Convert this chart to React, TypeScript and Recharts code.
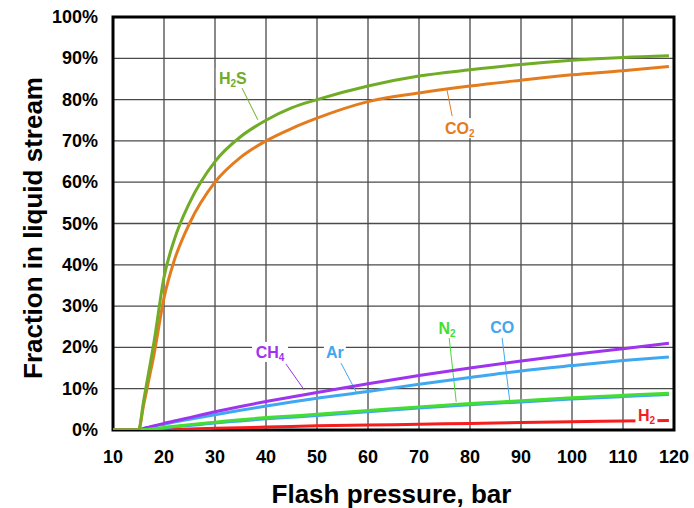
import React from 'react';
import {
  LineChart, Line, XAxis, YAxis, CartesianGrid, ReferenceArea, ReferenceLine, ReferenceDot, Label,
} from 'recharts';

const pressure = [10, 15, 16, 17, 18, 20, 22, 25, 30, 35, 40, 45, 50, 60, 70, 80, 90, 100, 110, 119];
const h2s = [0, 0, 7, 14, 21, 37, 46, 55, 65, 71, 75, 78, 80, 83.3, 85.7, 87.2, 88.5, 89.5, 90.2, 90.6];
const co2 = [0, 0, 6, 12, 18, 32, 41, 50, 60, 66, 70, 73, 75.5, 79.5, 81.6, 83.3, 84.7, 86, 87, 88];
const ch4 = [0, 0, 0.4, 0.7, 1.0, 1.6, 2.2, 3.0, 4.4, 5.7, 6.9, 8.0, 9.1, 11.2, 13.2, 15.0, 16.7, 18.3, 19.7, 21];
const ar = [0, 0, 0.3, 0.6, 0.9, 1.4, 1.9, 2.6, 3.7, 4.8, 5.8, 6.8, 7.7, 9.3, 11.1, 12.7, 14.3, 15.6, 16.8, 17.7];
const n2 = [0, 0, 0.1, 0.2, 0.3, 0.6, 0.9, 1.3, 1.9, 2.5, 3.0, 3.4, 3.8, 4.7, 5.6, 6.4, 7.1, 7.8, 8.4, 8.9];
const co = [0, 0, 0.1, 0.2, 0.3, 0.5, 0.8, 1.1, 1.7, 2.2, 2.7, 3.1, 3.5, 4.4, 5.3, 6.1, 6.8, 7.5, 8.1, 8.6];
const h2 = [0, 0, 0, 0, 0.05, 0.1, 0.15, 0.25, 0.4, 0.55, 0.7, 0.85, 1.0, 1.2, 1.4, 1.6, 1.8, 2.0, 2.15, 2.3];

const xTicks = [10, 20, 30, 40, 50, 60, 70, 80, 90, 100, 110, 120];
const yTicks = [0, 10, 20, 30, 40, 50, 60, 70, 80, 90, 100];

const C_H2S = '#70ac26';
const C_CO2 = '#e47c1e';
const C_CH4 = '#9e34ee';
const C_AR = '#40a8f0';
const C_N2 = '#44de33';
const C_H2 = '#f51d1d';

const data = pressure.map((p, i) => ({
  p, h2s: h2s[i], co2: co2[i], ch4: ch4[i], ar: ar[i], n2: n2[i], co: co[i], h2: h2[i],
}));

const labels = [
  { main: 'H', sub: '2', tail: 'S', color: C_H2S, x: 33.5, y: 85.2, w: 34 },
  { main: 'CO', sub: '2', tail: '', color: C_CO2, x: 78, y: 73.1, w: 36 },
  { main: 'CH', sub: '4', tail: '', color: C_CH4, x: 40.8, y: 18.9, w: 36 },
  { main: 'Ar', sub: '', tail: '', color: C_AR, x: 53.5, y: 18.9, w: 22 },
  { main: 'N', sub: '2', tail: '', color: C_N2, x: 75.5, y: 24.7, w: 22 },
  { main: 'CO', sub: '', tail: '', color: C_AR, x: 86.3, y: 24.9, w: 28 },
  { main: 'H', sub: '2', tail: '', color: C_H2, x: 114.6, y: 3.6, w: 22 },
];

const leaders = [
  { color: C_H2S, x1: 35.3, y1: 82.8, x2: 38.4, y2: 75.1 },
  { color: C_CO2, x1: 76.5, y1: 76.0, x2: 75.5, y2: 82.3 },
  { color: C_CH4, x1: 43.9, y1: 16.0, x2: 47.5, y2: 9.7 },
  { color: C_AR, x1: 54.7, y1: 16.2, x2: 57.7, y2: 9.2 },
  { color: C_N2, x1: 75.9, y1: 22.5, x2: 77.3, y2: 6.8 },
  { color: C_AR, x1: 86.3, y1: 22.3, x2: 87.8, y2: 7.0 },
];

const FONT = 'Liberation Sans, Arial, sans-serif';

const XTick = (props: any) => {
  const { x, y, payload } = props;
  return (
    <text x={x} y={y} dy={33} textAnchor="middle" fontFamily={FONT} fontWeight="bold" fontSize={18} fill="#000">
      {payload.value}
    </text>
  );
};

const YTick = (props: any) => {
  const { x, y, payload } = props;
  return (
    <text x={x - 15} y={y} dy={6} textAnchor="end" fontFamily={FONT} fontWeight="bold" fontSize={18} fill="#000">
      {payload.value}%
    </text>
  );
};

const makeLabelShape = (l: any) => (props: any) => {
  const { cx, cy } = props;
  return (
    <g>
      <rect x={cx - l.w / 2} y={cy - 10} width={l.w} height={20} fill="#fff" />
      <text x={cx} y={cy} dy={6} textAnchor="middle" fontFamily={FONT} fontWeight="bold" fontSize={16} fill={l.color}>
        <tspan>{l.main}</tspan>
        {l.sub ? <tspan fontSize={10} dy={3}>{l.sub}</tspan> : null}
        {l.tail ? <tspan dy={-3}>{l.tail}</tspan> : null}
      </text>
    </g>
  );
};

export default function App() {
  return (
    <div style={{ position: 'absolute', left: 0, top: 0, background: '#fff' }}>
      <LineChart width={694} height={508} data={data} margin={{ top: 17, right: 20, left: 0, bottom: 0 }}>
        <CartesianGrid stroke="#4a4a4a" strokeWidth={1.3} horizontal vertical />
        <XAxis
          dataKey="p" type="number" domain={[10, 120]} ticks={xTicks} interval={0}
          tick={<XTick />} tickLine={false} tickSize={0} tickMargin={0} height={78}
          axisLine={false} allowDataOverflow
        >
          <Label
            content={(p: any) => {
              const vb = p.viewBox;
              return (
                <text x={vb.x + vb.width / 2 - 2} y={vb.y + 73} textAnchor="middle" fontFamily={FONT} fontWeight="bold" fontSize={26} fill="#000">
                  Flash pressure, bar
                </text>
              );
            }}
          />
        </XAxis>
        <YAxis
          type="number" domain={[0, 100]} ticks={yTicks} interval={0}
          tick={<YTick />} tickLine={false} tickSize={0} tickMargin={0} width={113}
          axisLine={false} allowDataOverflow
        >
          <Label
            content={() => (
              <text x={33} y={228} transform="rotate(-90 33 228)" textAnchor="middle" dominantBaseline="central" fontFamily={FONT} fontWeight="bold" fontSize={26} fill="#000">
                Fraction in liquid stream
              </text>
            )}
          />
        </YAxis>
        {leaders.map((s, i) => (
          <ReferenceLine key={'ld' + i} segment={[{ x: s.x1, y: s.y1 }, { x: s.x2, y: s.y2 }]} stroke={s.color} strokeWidth={1} ifOverflow="visible" />
        ))}
        <Line dataKey="h2" stroke={C_H2} strokeWidth={3} dot={false} isAnimationActive={false} type="monotone" />
        <Line dataKey="co" stroke={C_AR} strokeWidth={3} dot={false} isAnimationActive={false} type="monotone" />
        <Line dataKey="ar" stroke={C_AR} strokeWidth={3} dot={false} isAnimationActive={false} type="monotone" />
        <Line dataKey="ch4" stroke={C_CH4} strokeWidth={3} dot={false} isAnimationActive={false} type="monotone" />
        <Line dataKey="n2" stroke={C_N2} strokeWidth={3} dot={false} isAnimationActive={false} type="monotone" />
        <Line dataKey="co2" stroke={C_CO2} strokeWidth={3} dot={false} isAnimationActive={false} type="monotone" />
        <Line dataKey="h2s" stroke={C_H2S} strokeWidth={3} dot={false} isAnimationActive={false} type="monotone" />
        {labels.map((l, i) => (
          <ReferenceDot key={'lb' + i} x={l.x} y={l.y} r={0} ifOverflow="visible" shape={makeLabelShape(l)} />
        ))}
        <ReferenceArea x1={10} x2={120} y1={0} y2={100} fill="none" stroke="#000" strokeWidth={3} ifOverflow="visible" />
      </LineChart>
    </div>
  );
}
